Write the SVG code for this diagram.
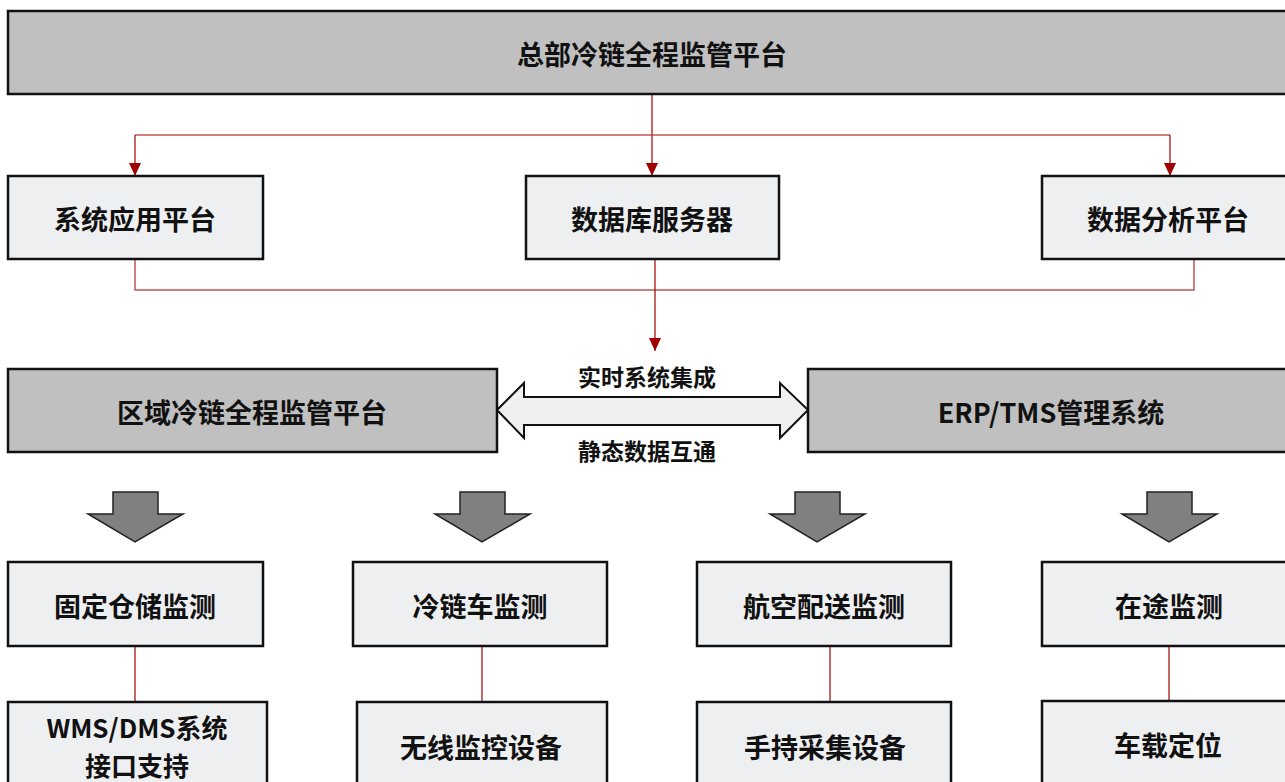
<svg xmlns="http://www.w3.org/2000/svg" xmlns:xlink="http://www.w3.org/1999/xlink" width="1285" height="782" viewBox="0 0 1285 782">
<style>
.dark{fill:#C0C0C0;stroke:#111;stroke-width:2.5}
.light{fill:#EEEFF1;stroke:#111;stroke-width:2.5}
.t{font-family:"Noto Sans CJK SC","Liberation Sans",sans-serif;font-weight:bold;font-size:27px;fill:#111;text-anchor:middle;dominant-baseline:central}
.s{font-size:23px}
.m{font-size:26px}
.line{fill:none;stroke:#C05555;stroke-width:1.5}
.line2{fill:none;stroke:#A00000;stroke-width:1.2}
.garrow{fill:#808080;stroke:#222;stroke-width:1.5}
</style>
<defs>
<marker id="ah" viewBox="0 0 13 12" refX="13" refY="6" markerWidth="13" markerHeight="12" markerUnits="userSpaceOnUse" orient="auto">
<path d="M0,0 L13,6 L0,12 Z" fill="#A00000"/>
</marker>
<polygon id="ga" points="-22,492 23,492 23,514 48,514 0,542 -47,514 -22,514" class="garrow"/>
</defs>

<g id="connectors">
<path class="line2" d="M652,94 V135"/>
<path class="line" d="M135,135 H1170"/>
<path class="line2" d="M135,135 V176" marker-end="url(#ah)"/>
<path class="line2" d="M652,135 V176" marker-end="url(#ah)"/>
<path class="line2" d="M1170,135 V176" marker-end="url(#ah)"/>
<path class="line" d="M135,259 V290 H1194 V259"/>
<path class="line2" d="M655,259 V351" marker-end="url(#ah)"/>
<path class="line2" d="M135,646 V702"/>
<path class="line2" d="M482,646 V702"/>
<path class="line2" d="M830,646 V702"/>
<path class="line2" d="M1169,646 V702"/>
</g>

<g id="hq">
<rect class="dark" x="8" y="11" width="1290" height="83"/>
<text class="t" x="652" y="53">总部冷链全程监管平台</text>
</g>
<g id="sysapp">
<rect class="light" x="8" y="176" width="255" height="83"/>
<text class="t" x="135" y="218">系统应用平台</text>
</g>
<g id="db">
<rect class="light" x="526" y="176" width="253" height="83"/>
<text class="t" x="652" y="218">数据库服务器</text>
</g>
<g id="analysis">
<rect class="light" x="1042" y="176" width="260" height="83"/>
<text class="t" x="1168" y="218">数据分析平台</text>
</g>

<g id="region">
<rect class="dark" x="8" y="369" width="489" height="83"/>
<text class="t" x="252" y="411">区域冷链全程监管平台</text>
</g>
<g id="erp">
<rect class="dark" x="808" y="369" width="492" height="83"/>
<text class="t" x="1051" y="411">ERP/TMS管理系统</text>
</g>
<g id="exchange">
<polygon points="497,410 524,383 524,397 780,397 780,383 808,410 780,438 780,425 524,425 524,438" fill="#F0F0F0" stroke="#111" stroke-width="2"/>
<text class="t s" x="647" y="376">实时系统集成</text>
<text class="t s" x="647" y="450">静态数据互通</text>
</g>

<g id="down-arrows">
<use xlink:href="#ga" transform="translate(135,0)"/>
<use xlink:href="#ga" transform="translate(482,0)"/>
<use xlink:href="#ga" transform="translate(817,0)"/>
<use xlink:href="#ga" transform="translate(1169,0)"/>
</g>

<g id="fixed">
<rect class="light" x="8" y="562" width="255" height="84"/>
<text class="t" x="135" y="605">固定仓储监测</text>
</g>
<g id="truck">
<rect class="light" x="353" y="562" width="254" height="84"/>
<text class="t" x="480" y="605">冷链车监测</text>
</g>
<g id="air">
<rect class="light" x="697" y="562" width="254" height="84"/>
<text class="t" x="824" y="605">航空配送监测</text>
</g>
<g id="transit">
<rect class="light" x="1042" y="562" width="260" height="84"/>
<text class="t" x="1169" y="605">在途监测</text>
</g>

<g id="wms">
<rect class="light" x="8" y="702" width="259" height="90"/>
<text class="t m" x="137" y="726">WMS/DMS系统</text>
<text class="t m" x="137" y="764">接口支持</text>
</g>
<g id="wireless">
<rect class="light" x="357" y="702" width="250" height="90"/>
<text class="t" x="481" y="746">无线监控设备</text>
</g>
<g id="handheld">
<rect class="light" x="697" y="702" width="254" height="90"/>
<text class="t" x="825" y="746">手持采集设备</text>
</g>
<g id="vehicle">
<rect class="light" x="1042" y="701" width="260" height="91"/>
<text class="t" x="1168" y="744">车载定位</text>
</g>
</svg>
